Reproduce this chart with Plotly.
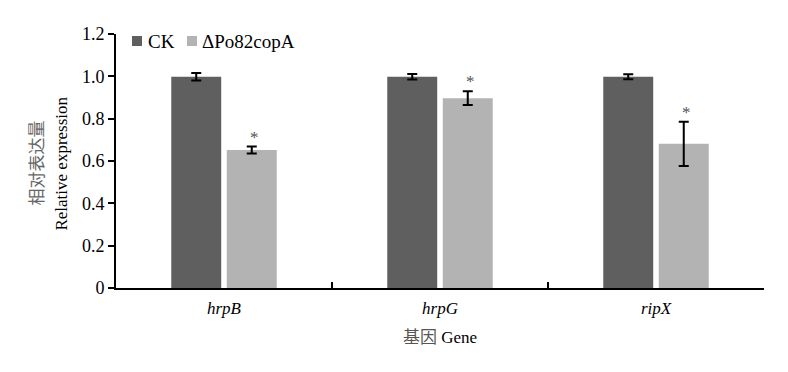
import plotly.graph_objects as go

genes = ["hrpB", "hrpG", "ripX"]
series_names = ["CK", "ΔPo82copA"]
ck_values = [0.998, 0.998, 0.998]
ck_errors = [0.018, 0.013, 0.012]
mut_values = [0.652, 0.897, 0.681]
mut_errors = [0.016, 0.032, 0.105]
sig_marks = ["*", "*", "*"]
y_tickvals = [0, 0.2, 0.4, 0.6, 0.8, 1.0, 1.2]
y_ticktext = ["0", "0.2", "0.4", "0.6", "0.8", "1.0", "1.2"]
colors = ["#5f5f5f", "#b3b3b3"]

FONT = "Liberation Serif"
CJK = "Noto Sans CJK SC"

fig = go.Figure()
fig.add_trace(go.Bar(
    x=genes, y=ck_values, name=series_names[0],
    marker=dict(color=colors[0], line=dict(width=0)),
    error_y=dict(type="data", array=ck_errors, color="black", thickness=2, width=5),
))
fig.add_trace(go.Bar(
    x=genes, y=mut_values, name=series_names[1],
    marker=dict(color=colors[1], line=dict(width=0)),
    error_y=dict(type="data", array=mut_errors, color="black", thickness=2, width=5),
))

for i, g in enumerate(genes):
    fig.add_annotation(
        x=g, y=mut_values[i] + mut_errors[i], text=sig_marks[i],
        xref="x", yref="y", showarrow=False, yanchor="bottom",
        xshift=30.5, yshift=-2,
        font=dict(family=FONT, size=17, color="#555"),
    )

# legend: squares as shapes in pixel offsets from the plot's top-left, labels as text
legend_sq_x = [16, 71]
legend_txt_x = [30, 84]
for i in range(2):
    fig.add_shape(
        type="rect", xref="paper", yref="paper", xsizemode="pixel", ysizemode="pixel",
        xanchor=0, yanchor=1, x0=legend_sq_x[i], x1=legend_sq_x[i] + 10, y0=-2, y1=-12,
        fillcolor=colors[i], line=dict(width=0),
    )
    fig.add_annotation(
        x=0, y=1.0, xref="paper", yref="paper", xanchor="left", yanchor="middle",
        xshift=legend_txt_x[i], yshift=-7, showarrow=False,
        text=series_names[i], font=dict(family=FONT, size=19, color="black"),
    )

# axis titles
fig.add_annotation(
    x=0, y=0.49, xref="paper", yref="paper", xanchor="center", yanchor="middle",
    xshift=-80, showarrow=False, textangle=-90,
    text="相对表达量", font=dict(family=CJK, size=17, color="#666"),
)
fig.add_annotation(
    x=0, y=0.49, xref="paper", yref="paper", xanchor="center", yanchor="middle",
    xshift=-54, showarrow=False, textangle=-90,
    text="Relative expression", font=dict(family=FONT, size=17, color="black"),
)
fig.add_annotation(
    x=0.5, y=0, xref="paper", yref="paper", xanchor="center", yanchor="middle",
    yshift=-47, showarrow=False,
    text=f"<span style='font-family:{CJK};color:#555'>基因</span> Gene",
    font=dict(family=FONT, size=17, color="black"),
)

fig.update_layout(
    width=780, height=364,
    margin=dict(l=108, r=24, t=26, b=84),
    paper_bgcolor="white", plot_bgcolor="white",
    barmode="group", bargap=0.486, bargroupgap=0.1,
    font=dict(family=FONT, size=17, color="black"),
    showlegend=False,
    xaxis=dict(
        type="category", showline=True, linecolor="black", linewidth=2,
        ticks="inside", tickson="boundaries", ticklen=6, tickwidth=2, tickcolor="black",
        tickfont=dict(family=FONT, size=17, style="italic"), ticklabelstandoff=4,
        showgrid=False, zeroline=False, automargin=False,
    ),
    yaxis=dict(
        range=[0, 1.2], showline=True, linecolor="black", linewidth=2,
        ticks="outside", ticklen=6, tickwidth=2, tickcolor="black",
        tickvals=y_tickvals, ticktext=y_ticktext,
        showgrid=False, zeroline=False, automargin=False,
        tickfont=dict(family=FONT, size=18),
    ),
)

fig.write_html("out.html")
